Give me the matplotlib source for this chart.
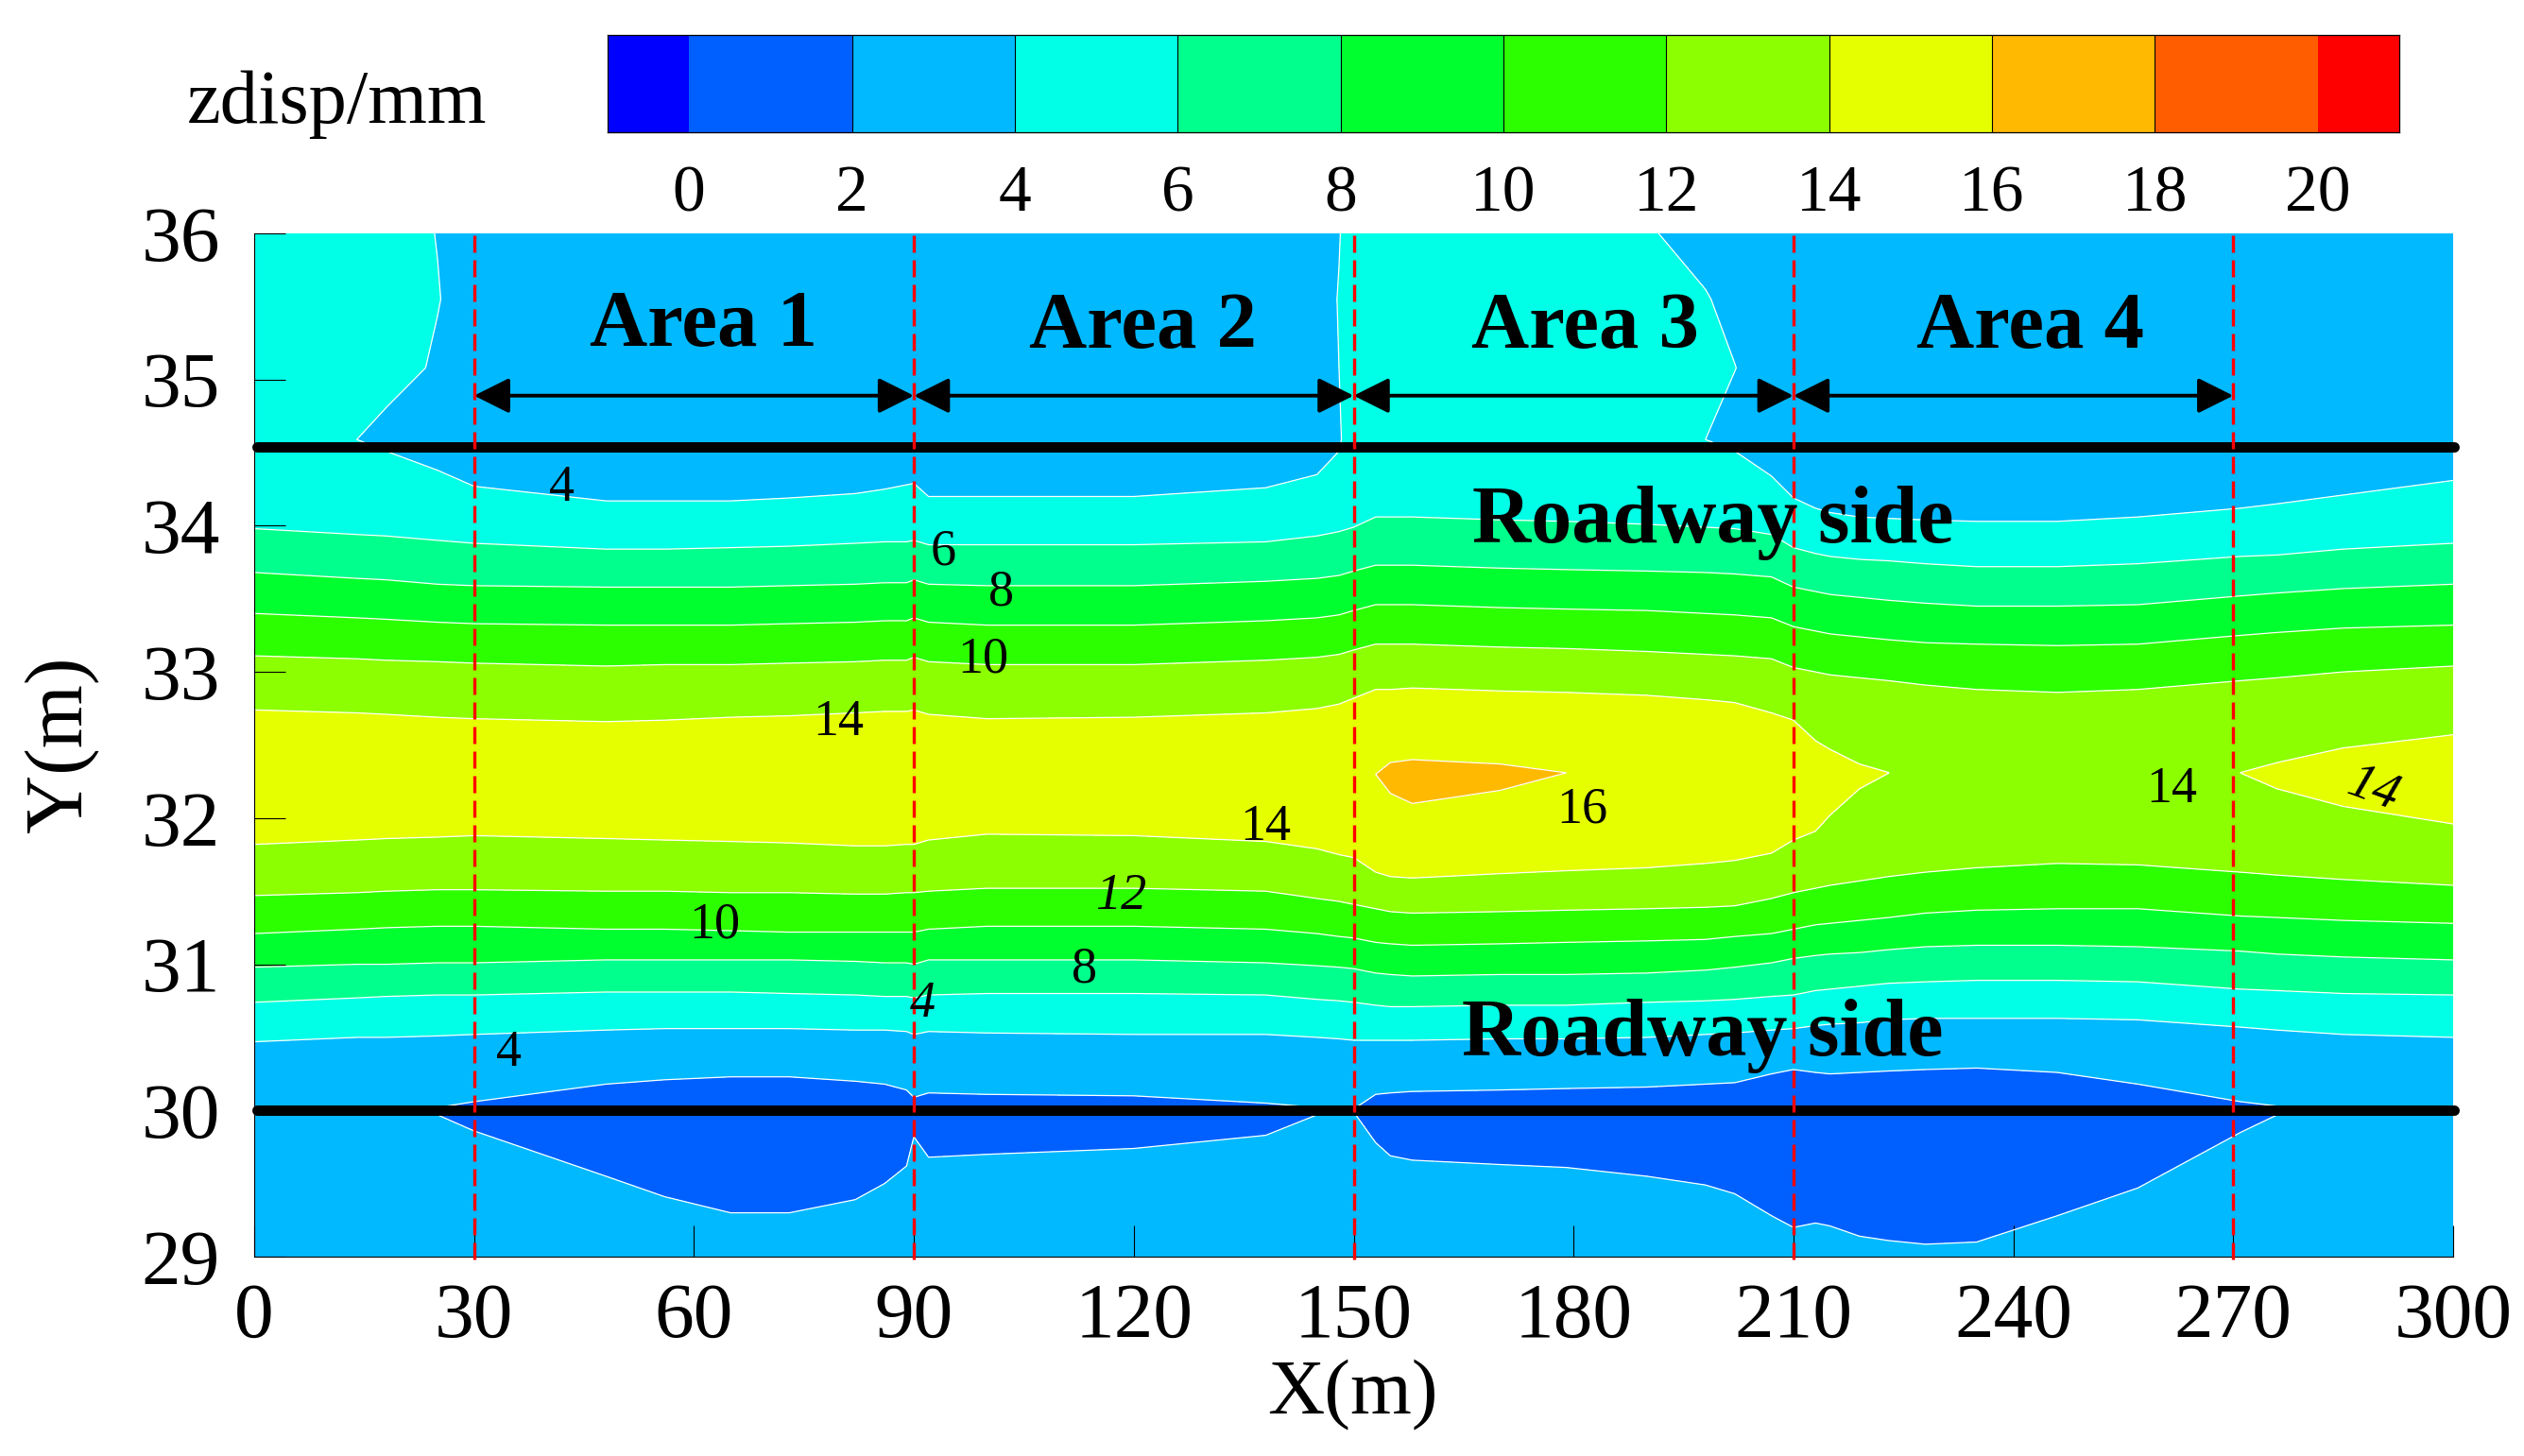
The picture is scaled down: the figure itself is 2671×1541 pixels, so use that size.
import numpy as np
import matplotlib
matplotlib.use("Agg")
import matplotlib.pyplot as plt
from matplotlib.colors import ListedColormap, BoundaryNorm
from matplotlib.patches import FancyArrowPatch

plt.rcParams['font.family'] = ['Liberation Serif', 'DejaVu Serif']

W, H = 2671, 1541

# contour levels and band colours
levels = [-1, 0, 2, 4, 6, 8, 10, 12, 14, 16, 18, 20, 21]
band_colors = ['#0000ff', '#0060ff', '#00b9ff', '#00ffe6', '#00ff8c', '#00ff2e',
               '#2cff00', '#8cff00', '#e6ff00', '#ffb900', '#ff5d00', '#ff0000']
cbar_ticks = [0, 2, 4, 6, 8, 10, 12, 14, 16, 18, 20]
x_ticks = [0, 30, 60, 90, 120, 150, 180, 210, 240, 270, 300]
y_ticks = [29, 30, 31, 32, 33, 34, 35, 36]
area_bounds = [30, 90, 150, 210, 270]

# stations along the panel length (m)
x_st = [0, 14, 18, 25, 30, 48, 56, 65, 73, 82, 86, 89, 90, 92, 100, 120, 138, 145, 148, 150, 153,
        155, 158, 170, 179, 190, 198, 202, 207, 210, 213, 215, 219, 223, 228, 235, 246, 257, 271, 276, 285, 300]

# y position (m) of each contour at every station
y_lens_low = [29.85, 29.85, 29.85, 29.97, 29.86, 29.55, 29.41, 29.30, 29.30, 29.39, 29.50, 29.62, 29.82, 29.68, 29.70, 29.74, 29.83, 29.97, 29.99, 29.99, 29.78,
              29.69, 29.66, 29.63, 29.61, 29.55, 29.49, 29.43, 29.28, 29.20, 29.23, 29.21, 29.14, 29.11, 29.085, 29.10, 29.28, 29.47, 29.85, 29.97, 29.85, 29.85]
y_lens_up = [30.15, 30.15, 30.15, 30.02, 30.06, 30.18, 30.21, 30.23, 30.23, 30.20, 30.18, 30.14, 30.09, 30.12, 30.11, 30.10, 30.05, 30.02, 30.01, 30.01, 30.11,
             30.12, 30.13, 30.14, 30.15, 30.16, 30.18, 30.19, 30.25, 30.28, 30.26, 30.25, 30.26, 30.27, 30.28, 30.29, 30.26, 30.18, 30.06, 30.03, 30.15, 30.15]
y_l4_low = [30.47, 30.50, 30.50, 30.51, 30.52, 30.55, 30.56, 30.56, 30.56, 30.55, 30.55, 30.54, 30.52, 30.54, 30.53, 30.52, 30.52, 30.50, 30.49, 30.48, 30.48,
            30.48, 30.48, 30.49, 30.49, 30.50, 30.52, 30.53, 30.55, 30.56, 30.58, 30.59, 30.60, 30.62, 30.63, 30.63, 30.63, 30.62, 30.57, 30.55, 30.52, 30.50]
y_l6_low = [30.74, 30.77, 30.78, 30.79, 30.79, 30.81, 30.81, 30.81, 30.80, 30.79, 30.78, 30.78, 30.77, 30.79, 30.80, 30.80, 30.79, 30.76, 30.75, 30.74, 30.72,
            30.71, 30.71, 30.72, 30.72, 30.74, 30.75, 30.76, 30.78, 30.79, 30.82, 30.83, 30.85, 30.87, 30.88, 30.89, 30.89, 30.88, 30.83, 30.82, 30.80, 30.79]
y_l8_low = [30.98, 31.00, 31.00, 31.01, 31.01, 31.03, 31.03, 31.03, 31.03, 31.02, 31.01, 31.01, 31.00, 31.03, 31.03, 31.03, 31.01, 30.99, 30.98, 30.97, 30.94,
            30.93, 30.92, 30.93, 30.93, 30.94, 30.96, 30.98, 31.01, 31.04, 31.06, 31.07, 31.08, 31.10, 31.12, 31.13, 31.13, 31.12, 31.09, 31.07, 31.05, 31.03]
y_l10_low = [31.21, 31.24, 31.25, 31.26, 31.26, 31.24, 31.24, 31.23, 31.22, 31.22, 31.22, 31.22, 31.22, 31.24, 31.26, 31.26, 31.24, 31.21, 31.19, 31.18, 31.15,
             31.14, 31.13, 31.14, 31.15, 31.16, 31.17, 31.19, 31.21, 31.24, 31.27, 31.28, 31.30, 31.32, 31.35, 31.37, 31.38, 31.38, 31.33, 31.32, 31.30, 31.28]
y_l12_low = [31.47, 31.49, 31.50, 31.51, 31.51, 31.50, 31.50, 31.49, 31.49, 31.48, 31.48, 31.49, 31.49, 31.50, 31.52, 31.52, 31.50, 31.45, 31.43, 31.41, 31.38,
             31.36, 31.35, 31.36, 31.37, 31.38, 31.39, 31.40, 31.45, 31.49, 31.52, 31.54, 31.57, 31.60, 31.63, 31.66, 31.69, 31.68, 31.63, 31.61, 31.58, 31.54]
y_l14_low = [31.82, 31.85, 31.86, 31.87, 31.88, 31.86, 31.85, 31.84, 31.83, 31.81, 31.81, 31.82, 31.82, 31.85, 31.89, 31.88, 31.84, 31.79, 31.75, 31.73, 31.63,
             31.60, 31.59, 31.62, 31.64, 31.66, 31.69, 31.71, 31.76, 31.85, 31.91, 32.02, 32.20, 32.305, 31.95, 31.95, 31.95, 31.95, 32.305, 32.20, 32.08, 31.96]
y_o_low = [32.15] * 20 + [32.298, 32.17, 32.10, 32.19, 32.308] + [32.15] * 7 + [32.25, 32.308] + [32.10] * 4 + [32.308, 32.26, 32.20, 32.10]
y_ridge = [32.30] * 24 + [32.31] + [32.30] * 8 + [32.31] + [32.30] * 4 + [32.31] + [32.30] * 3
y_o_up = [32.45] * 20 + [32.302, 32.38, 32.40, 32.37, 32.312] + [32.45] * 7 + [32.33, 32.312] + [32.40] * 4 + [32.312, 32.34, 32.38, 32.42]
y_l14_up = [32.74, 32.72, 32.71, 32.69, 32.68, 32.66, 32.67, 32.69, 32.70, 32.72, 32.73, 32.73, 32.74, 32.71, 32.68, 32.69, 32.72, 32.75, 32.78, 32.82, 32.88,
            32.88, 32.89, 32.87, 32.86, 32.84, 32.81, 32.79, 32.72, 32.67, 32.53, 32.47, 32.37, 32.315, 32.50, 32.50, 32.50, 32.50, 32.315, 32.38, 32.48, 32.57]
y_l12_up = [33.11, 33.09, 33.08, 33.07, 33.06, 33.04, 33.05, 33.05, 33.06, 33.07, 33.08, 33.08, 33.10, 33.07, 33.05, 33.05, 33.08, 33.10, 33.12, 33.15, 33.19,
            33.19, 33.19, 33.17, 33.16, 33.14, 33.12, 33.11, 33.09, 33.03, 33.00, 32.98, 32.96, 32.94, 32.91, 32.88, 32.86, 32.88, 32.94, 32.96, 33.00, 33.04]
y_l10_up = [33.40, 33.37, 33.36, 33.34, 33.33, 33.32, 33.32, 33.32, 33.33, 33.34, 33.35, 33.35, 33.37, 33.34, 33.32, 33.32, 33.35, 33.37, 33.39, 33.42, 33.46,
            33.46, 33.46, 33.44, 33.43, 33.42, 33.40, 33.39, 33.37, 33.31, 33.28, 33.26, 33.24, 33.22, 33.20, 33.19, 33.18, 33.19, 33.25, 33.27, 33.30, 33.32]
y_l8_up = [33.68, 33.64, 33.63, 33.60, 33.59, 33.58, 33.58, 33.58, 33.59, 33.60, 33.61, 33.61, 33.63, 33.60, 33.59, 33.59, 33.62, 33.64, 33.66, 33.69, 33.73,
           33.73, 33.73, 33.71, 33.70, 33.69, 33.68, 33.67, 33.65, 33.58, 33.55, 33.53, 33.51, 33.49, 33.47, 33.45, 33.45, 33.46, 33.52, 33.54, 33.57, 33.60]
y_l6_up = [33.98, 33.94, 33.93, 33.90, 33.88, 33.84, 33.84, 33.85, 33.86, 33.88, 33.89, 33.89, 33.90, 33.87, 33.87, 33.87, 33.89, 33.93, 33.96, 33.99, 34.06,
           34.06, 34.06, 34.04, 34.03, 34.01, 33.99, 33.98, 33.94, 33.85, 33.81, 33.79, 33.77, 33.76, 33.74, 33.72, 33.72, 33.74, 33.79, 33.80, 33.84, 33.88]
y_l4_up = [34.30, 34.50, 34.51, 34.38, 34.27, 34.17, 34.17, 34.17, 34.19, 34.22, 34.25, 34.28, 34.29, 34.20, 34.20, 34.20, 34.26, 34.35, 34.51, 34.56, 34.56,
           34.56, 34.56, 34.56, 34.56, 34.56, 34.56, 34.51, 34.34, 34.19, 34.12, 34.09, 34.06, 34.05, 34.04, 34.03, 34.03, 34.06, 34.12, 34.15, 34.21, 34.31]

# rows of constant y
y_bottom, y_lens_mid, y_top1, y_top2, y_top3, y_top4 = 29.0, 30.0, 34.59, 35.08, 35.55, 36.0

# displacement (mm) along the rows whose value changes with x
z_bottom = [3.0] * 42
z_lens_edge = [2.5, 2.5, 2.4] + [2.0] * 37 + [2.4, 2.5]
z_lens_mid = [2.7, 2.7, 2.6, 2.0, 1.5] + [1.0] * 12 + [1.6, 1.9, 1.9, 1.2] + [1.0] * 17 + [1.5, 2.0, 2.6, 2.7]
z_l14_edge = [14.0] * 34 + [13.5] * 4 + [14.0] * 4
z_o_edge = [15.2] * 20 + [16.0] * 5 + [15.2] * 7 + [14.5, 14.0] + [13.6] * 4 + [14.0, 14.5, 14.7, 14.7]
z_ridge = [15.5] * 20 + [16.0, 17.0, 17.0, 17.0, 16.0] + [15.5] * 7 + [14.8, 14.0] + [13.7] * 4 + [14.0, 14.8, 15.0, 15.0]
z_l4_up = [4.6, 4.3] + [4.0] * 17 + [4.2] + [4.5] * 6 + [4.4] + [4.0] * 15
z_top1 = [4.5, 4.0, 3.6] + [3.5] * 15 + [3.9] + [4.5] * 7 + [4.0, 3.6] + [3.5] * 14
z_top2 = [4.5, 4.6, 4.5, 3.85] + [3.5] * 14 + [4.0] + [4.5] * 7 + [4.4, 4.02] + [3.5] * 14
z_top3 = [4.5, 4.6, 4.5, 4.05] + [3.5] * 14 + [4.05] + [4.5] * 7 + [4.07, 3.7] + [3.5] * 14
z_top4 = [4.5, 4.6, 4.5, 3.97] + [3.5] * 14 + [3.95] + [4.5] * 6 + [4.1, 3.6] + [3.5] * 15

n = len(x_st)
rows = [
    ([y_bottom] * n, z_bottom),
    (y_lens_low, z_lens_edge),
    ([y_lens_mid] * n, z_lens_mid),
    (y_lens_up, z_lens_edge),
    (y_l4_low, [4.0] * n),
    (y_l6_low, [6.0] * n),
    (y_l8_low, [8.0] * n),
    (y_l10_low, [10.0] * n),
    (y_l12_low, [12.0] * n),
    (y_l14_low, z_l14_edge),
    (y_o_low, z_o_edge),
    (y_ridge, z_ridge),
    (y_o_up, z_o_edge),
    (y_l14_up, z_l14_edge),
    (y_l12_up, [12.0] * n),
    (y_l10_up, [10.0] * n),
    (y_l8_up, [8.0] * n),
    (y_l6_up, [6.0] * n),
    (y_l4_up, z_l4_up),
    ([y_top1] * n, z_top1),
    ([y_top2] * n, z_top2),
    ([y_top3] * n, z_top3),
    ([y_top4] * n, z_top4),
]
Y = np.array([r[0] for r in rows], dtype=float)
Z = np.array([r[1] for r in rows], dtype=float)
X = np.tile(np.array(x_st, dtype=float), (Y.shape[0], 1))

fig = plt.figure(figsize=(W / 100, H / 100), dpi=100, facecolor='white')


def ax_rect(l, t, r, b):
    return [l / W, 1 - b / H, (r - l) / W, (b - t) / H]


def ftext(px, py, s, **kw):
    return fig.text(px / W, 1 - py / H, s, **kw)


ax = fig.add_axes(ax_rect(269, 247, 2596, 1330))
cmap = ListedColormap(band_colors)
norm = BoundaryNorm(levels, cmap.N)
ax.contourf(X, Y, Z, levels=levels, cmap=cmap, norm=norm, zorder=1)
ax.contour(X, Y, Z, levels=levels[2:-3], colors='white', linewidths=0.9, zorder=2)
ax.set_xlim(0, 300)
ax.set_ylim(29, 36)
ax.spines['top'].set_visible(False)
ax.spines['right'].set_visible(False)
for s in ('left', 'bottom'):
    ax.spines[s].set_linewidth(0.8)
ax.set_xticks(x_ticks)
ax.set_yticks(y_ticks)
ax.tick_params(axis='x', direction='in', length=24, width=0.8, labelsize=60, pad=20)
ax.tick_params(axis='y', direction='in', length=24, width=0.8, labelsize=60, pad=26)

# roadway boundaries
for yy in (34.54, 30.0):
    ax.plot([0.4, 300.1], [yy, yy], color='black', lw=7.9, solid_capstyle='round', clip_on=False, zorder=4)

# area arrows
for a, b in zip(area_bounds[:-1], area_bounds[1:]):
    ax.add_patch(FancyArrowPatch((a, 34.89), (b, 34.89),
                                 arrowstyle='<|-|>,head_length=23,head_width=11.5',
                                 mutation_scale=1, shrinkA=0, shrinkB=0,
                                 lw=2.8, color='black', clip_on=False, zorder=5))

# area boundaries
for xx in area_bounds:
    ax.plot([xx, xx], [28.98, 36.035], color='red', lw=2.4, ls=(0, (5.4, 2.4)),
            dash_capstyle='butt', clip_on=False, zorder=6)

# colour bar
cax = fig.add_axes(ax_rect(643, 37, 2539, 140))
cax.pcolormesh(levels, [0, 1], np.array([[0.5 * (a + b) for a, b in zip(levels[:-1], levels[1:])]]),
               cmap=cmap, norm=norm)
cax.vlines(levels[2:-2], 0, 1, colors='black', lw=0.8)
cax.set_xlim(-1, 21)
cax.set_ylim(0, 1)
cax.set_yticks([])
cax.set_xticks(cbar_ticks)
cax.tick_params(axis='x', length=0, labelsize=50, pad=25)
for s in cax.spines.values():
    s.set_linewidth(0.9)

# texts
ftext(198, 130, 'zdisp/mm', fontsize=58, ha='left', va='baseline')
ftext(1431, 1496, 'X(m)', fontsize=60, ha='center', va='baseline')
ftext(85, 788, 'Y(m)', fontsize=62, rotation=90, ha='center', va='baseline', rotation_mode='anchor')

area_labels = ['Area 1', 'Area 2', 'Area 3', 'Area 4']
area_px = [745, 1209, 1677, 2149]
area_py = [366, 368, 368, 368]
for s, px, py in zip(area_labels, area_px, area_py):
    ftext(px, py, s, fontsize=61, fontweight='bold', ha='center', va='baseline', zorder=10)
ftext(1813, 574, 'Roadway side', fontsize=62, fontweight='bold', ha='center', va='baseline', zorder=10)
ftext(1802, 1117, 'Roadway side', fontsize=62, fontweight='bold', ha='center', va='baseline', zorder=10)

# contour value annotations
small = [
    ('4', 594, 517, 'normal', 0), ('6', 998, 584, 'normal', 0), ('8', 1060, 627, 'normal', 0),
    ('10', 1040, 698, 'normal', 0), ('14', 887, 765, 'normal', 0), ('14', 1339, 876, 'normal', 0),
    ('10', 756, 979, 'normal', 0), ('12', 1186, 949, 'italic', 0), ('8', 1148, 1026, 'normal', 0),
    ('4', 976, 1063, 'italic', 0), ('4', 538, 1115, 'normal', 0), ('16', 1674, 857, 'normal', 0),
    ('14', 2298, 836, 'normal', 0), ('14', 2511, 836, 'italic', -20),
]
for s, px, py, st, rot in small:
    ftext(px, py, s, fontsize=39, style=st, rotation=rot, ha='center', va='center', zorder=10)

fig.savefig('out.png', dpi=100, facecolor='white')
